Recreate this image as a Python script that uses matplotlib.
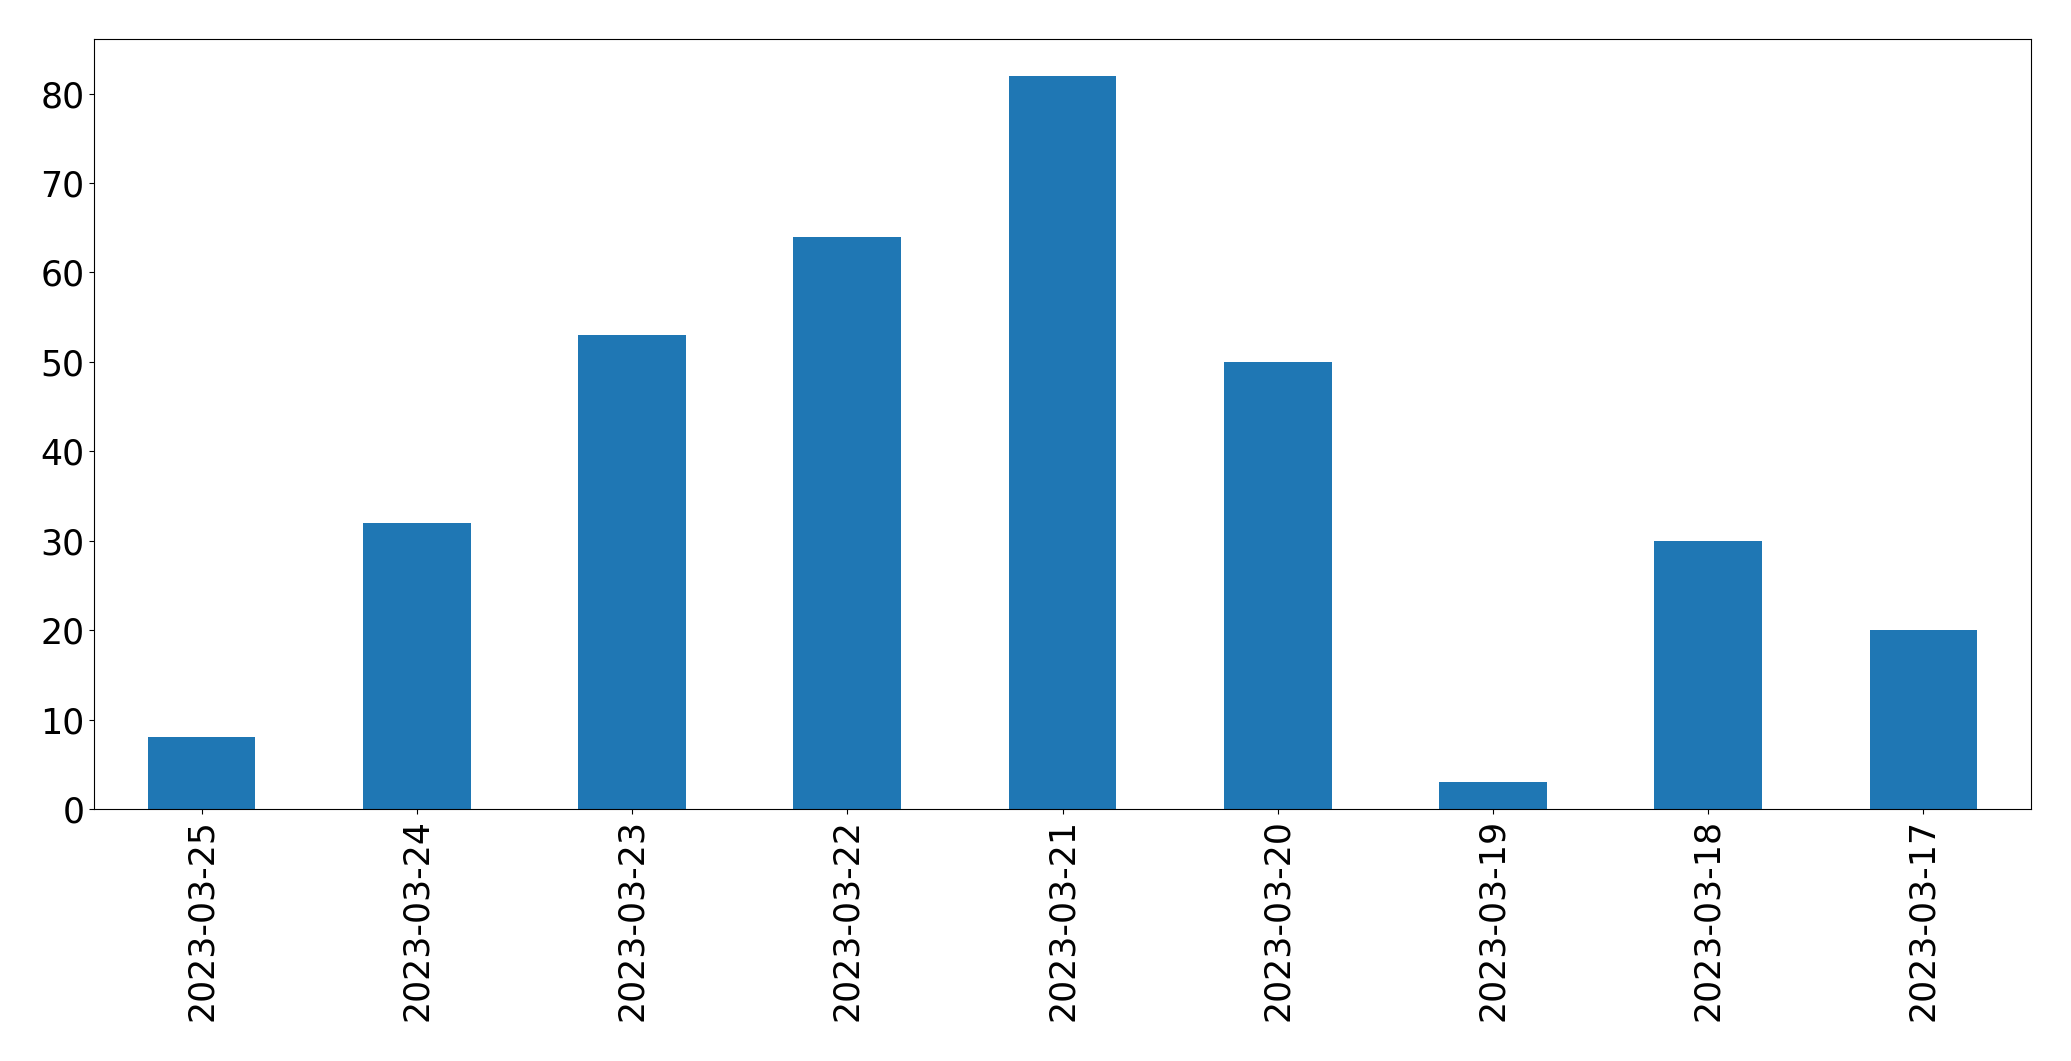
"""
按日期绘制每日数量柱状图。
"""

import pandas as pd
import matplotlib
matplotlib.use('Agg')
import matplotlib.pyplot as plt

# 日期（倒序）
dates = ['2023-03-25', '2023-03-24', '2023-03-23', '2023-03-22', '2023-03-21',
         '2023-03-20', '2023-03-19', '2023-03-18', '2023-03-17']
# 每日数量
counts = [8, 32, 53, 64, 82, 50, 3, 30, 20]


def main():
    s = pd.Series(counts, index=dates)

    fig = plt.figure(figsize=(20.71, 10.61), dpi=100)
    ax = fig.add_subplot(111)
    s.plot(kind='bar', ax=ax, color='#1f77b4')  # 柱状图
    ax.tick_params(axis='both', labelsize=25)
    plt.subplots_adjust(left=0.0454, right=0.9807, top=0.9632, bottom=0.2375)
    plt.savefig('out.png', dpi=100)  # 保存图像
    plt.clf()


if __name__ == '__main__':
    main()
